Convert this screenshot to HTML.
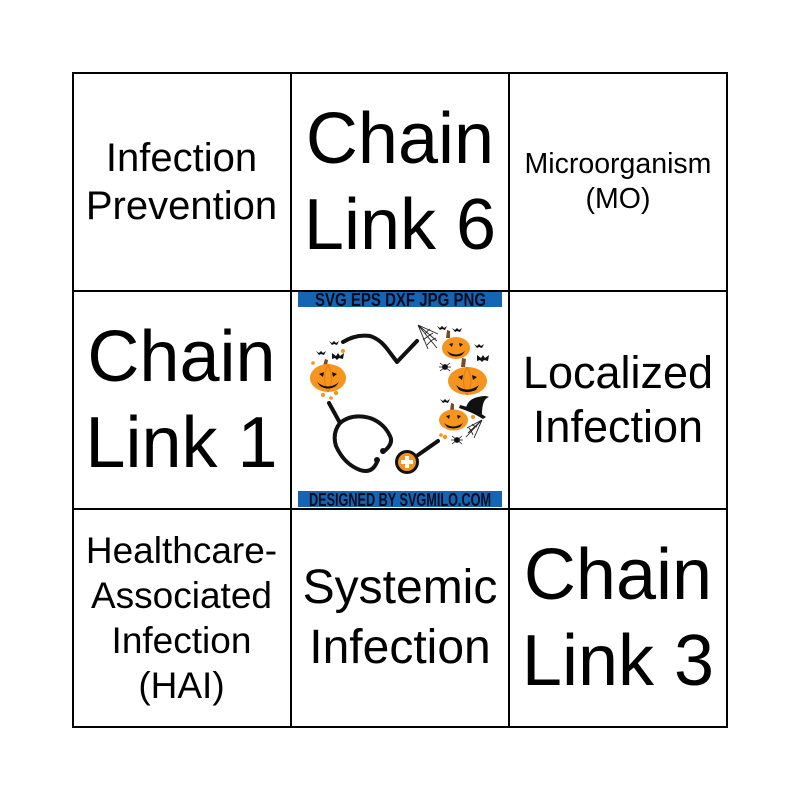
<!DOCTYPE html>
<html>
<head>
<meta charset="utf-8">
<style>
  html,body{margin:0;padding:0;background:#fff;}
  body{width:800px;height:800px;position:relative;overflow:hidden;font-family:"Liberation Sans",Arial,sans-serif;color:#000;}
  svg.bg{position:absolute;left:0;top:0;}
  .cell{position:absolute;display:flex;align-items:center;justify-content:center;text-align:center;white-space:nowrap;}
  .c0{left:73px;width:217px;}
  .c1{left:292px;width:216px;}
  .c2{left:510px;width:216px;}
  .r0{top:73px;height:217px;}
  .r1{top:292px;height:216px;}
  .r2{top:510px;height:216px;}
  .big{font-size:72px;line-height:86px;}
</style>
</head>
<body>
<svg class="bg" width="800" height="800" viewBox="0 0 800 800" xmlns="http://www.w3.org/2000/svg">
  <rect x="0" y="0" width="800" height="800" fill="#fff"/>
  <!-- center image -->
  <rect x="298" y="292" width="204" height="15" fill="#1565b5"/>
  <text x="315" y="306" font-family="Liberation Sans Narrow, Liberation Sans, sans-serif" font-weight="bold" font-size="18" fill="#0b0b1c" textLength="171" lengthAdjust="spacingAndGlyphs">SVG  EPS  DXF  JPG  PNG</text>
  <rect x="298" y="491" width="204" height="16" fill="#1565b5"/>
  <text x="309" y="506" font-family="Liberation Sans Narrow, Liberation Sans, sans-serif" font-weight="bold" font-size="18" fill="#0b0b1c" textLength="182" lengthAdjust="spacingAndGlyphs">DESIGNED BY SVGMILO.COM</text>

  <!-- heart top strokes -->
  <path d="M343,342 Q356,334 370,336 Q380,339 388,350 L397,362 L417,341" fill="none" stroke="#111" stroke-width="4" stroke-linecap="round" stroke-linejoin="round"/>
  <!-- stethoscope -->
  <path d="M329,403 L340,423" fill="none" stroke="#111" stroke-width="4" stroke-linecap="round"/>
  <path d="M383,452 Q394,444 390,436 Q384,423 370,418 Q352,413 340,423 Q332,433 336,446 Q344,464 360,470 Q372,474 377,462" fill="none" stroke="#111" stroke-width="4" stroke-linecap="round"/>
  <circle cx="383" cy="451" r="3" fill="#111"/>
  <circle cx="377" cy="460" r="3" fill="#111"/>
  <path d="M418,455 L438,441" fill="none" stroke="#111" stroke-width="4" stroke-linecap="round"/>
  <circle cx="407" cy="462" r="12" fill="#111"/>
  <circle cx="407" cy="462" r="9" fill="#f7941d"/>
  <rect x="405" y="456" width="4" height="12" fill="#fff"/>
  <rect x="401" y="460" width="12" height="4" fill="#fff"/>

  <!-- orange dots -->
  <g fill="#f7941d">
    <circle cx="313" cy="363" r="1.8"/><circle cx="343" cy="351" r="2"/>
    <circle cx="323" cy="395" r="2"/><circle cx="331" cy="398" r="1.8"/><circle cx="336" cy="393" r="2.2"/>
    <circle cx="441" cy="435" r="1.8"/><circle cx="445" cy="437" r="2.2"/><circle cx="473" cy="417" r="2"/>
  </g>

  <!-- pumpkins -->
  <g>
    <!-- left -->
    <path d="M323,366 L325,359 L328,360 L327,366 Z" fill="#7a4a22"/>
    <ellipse cx="328" cy="378" rx="18" ry="14" fill="#f7941d"/>
    <path d="M328,365 Q321,378 328,392 M328,365 Q335,378 328,392" fill="none" stroke="#e07f10" stroke-width="1"/>
    <path d="M319,374 L324,372 L323,377 Z M337,374 L332,372 L333,377 Z M317,382 Q328,391 339,382 L336,386 Q328,391 320,386 Z" fill="#111"/>
    <!-- top right -->
    <path d="M446,338 L447,330 L450,331 L450,338 Z" fill="#7a4a22"/>
    <ellipse cx="456" cy="348" rx="14" ry="11" fill="#f7941d"/>
    <path d="M449,344 L453,343 L452,347 Z M463,344 L459,343 L460,347 Z M447,351 Q456,358 465,351 L462,355 Q456,358 450,355 Z" fill="#111"/>
    <!-- middle right -->
    <path d="M461,367 L462,358 L466,359 L465,367 Z" fill="#7a4a22"/>
    <ellipse cx="467.5" cy="381" rx="19.5" ry="14" fill="#f7941d"/>
    <path d="M467,367 Q460,381 467,395 M467,367 Q475,381 467,395" fill="none" stroke="#e07f10" stroke-width="1"/>
    <path d="M458,377 L463,375 L462,380 Z M477,377 L472,375 L473,380 Z M456,385 Q467,394 479,385 L476,390 Q467,394 459,390 Z" fill="#111"/>
    <!-- bottom right -->
    <path d="M450,411 L451,403 L454,404 L454,411 Z" fill="#7a4a22"/>
    <ellipse cx="453.5" cy="420" rx="14.5" ry="10.5" fill="#f7941d"/>
    <path d="M446,416 L450,415 L449,419 Z M461,416 L457,415 L458,419 Z M444,423 Q453,430 463,423 L460,427 Q453,430 447,427 Z" fill="#111"/>
  </g>

  <!-- witch hat -->
  <path d="M460,405 Q474,408 486,417 L483,419 Q472,412 459,408 Z" fill="#111"/>
  <path d="M466,408 Q468,399 478,397 Q486,395 489,397 Q482,399 482,414 Z" fill="#111"/>

  <!-- bats -->
  <g fill="#111">
    <path d="M329,341 l3,2 l2,-2 l2,2 l3,-2 l-2,4 l-3,-1 l-2,1 Z"/>
    <path d="M316,351 l3,2 l2,-2 l2,2 l3,-2 l-2,4 l-3,-1 l-2,1 Z"/>
    <path d="M332,353 l4,3 l2,-3 l2,3 l4,-3 l-1,6 l-4,-1 l-2,2 l-2,-2 l-3,1 Z"/>
    <path d="M437,326 l3,2 l2,-2 l2,2 l3,-2 l-2,4 l-3,-1 l-2,1 Z"/>
    <path d="M452,328 l3,2 l2,-2 l2,2 l3,-2 l-2,4 l-3,-1 l-2,1 Z"/>
    <path d="M474,344 l3,2 l2,-2 l2,2 l3,-2 l-2,4 l-3,-1 l-2,1 Z"/>
    <path d="M477,355 l4,3 l2,-3 l2,3 l4,-3 l-1,6 l-4,-1 l-2,2 l-2,-2 l-3,1 Z"/>
    <path d="M440,399 l3,2 l2,-2 l2,2 l3,-2 l-2,4 l-3,-1 l-2,1 Z"/>
  </g>

  <!-- spiders -->
  <g fill="#111" stroke="#111" stroke-width="0.8">
    <circle cx="445" cy="367" r="2.5"/>
    <path d="M440,363 L450,371 M450,363 L440,371 M439,367 L451,367" fill="none"/>
    <circle cx="457" cy="440" r="2.5"/>
    <path d="M452,436 L462,444 M462,436 L452,444 M451,440 L463,440" fill="none"/>
  </g>

  <!-- cobwebs -->
  <g fill="none" stroke="#222" stroke-width="0.9">
    <path d="M418,325 L437,348 M418,325 L438,334 M418,325 L428,349 M418,325 L437,341"/>
    <path d="M425,334 Q428,330 430,329 M427,345 Q431,340 436,338 M423,340 Q428,336 433,333"/>
    <path d="M482,420 L466,437 M482,420 L467,428 M482,420 L474,438 M482,420 L468,433"/>
    <path d="M477,427 Q473,426 472,424 M473,435 Q471,430 469,428"/>
  </g>

  <!-- grid -->
  <g stroke="#000" stroke-width="2" fill="none">
    <rect x="73" y="73" width="654" height="654"/>
    <line x1="291" y1="72" x2="291" y2="728"/>
    <line x1="509" y1="72" x2="509" y2="728"/>
    <line x1="72" y1="291" x2="728" y2="291"/>
    <line x1="72" y1="509" x2="728" y2="509"/>
  </g>
</svg>

<div class="cell c0 r0" style="font-size:40px;line-height:48px;">Infection<br>Prevention</div>
<div class="cell c1 r0 big">Chain<br>Link 6</div>
<div class="cell c2 r0" style="font-size:28.5px;line-height:35px;">Microorganism<br>(MO)</div>
<div class="cell c0 r1 big">Chain<br>Link 1</div>
<div class="cell c2 r1" style="font-size:45px;line-height:54px;">Localized<br>Infection</div>
<div class="cell c0 r2" style="font-size:37px;line-height:45px;">Healthcare-<br>Associated<br>Infection<br>(HAI)</div>
<div class="cell c1 r2" style="font-size:48px;line-height:60px;">Systemic<br>Infection</div>
<div class="cell c2 r2 big">Chain<br>Link 3</div>
</body>
</html>
